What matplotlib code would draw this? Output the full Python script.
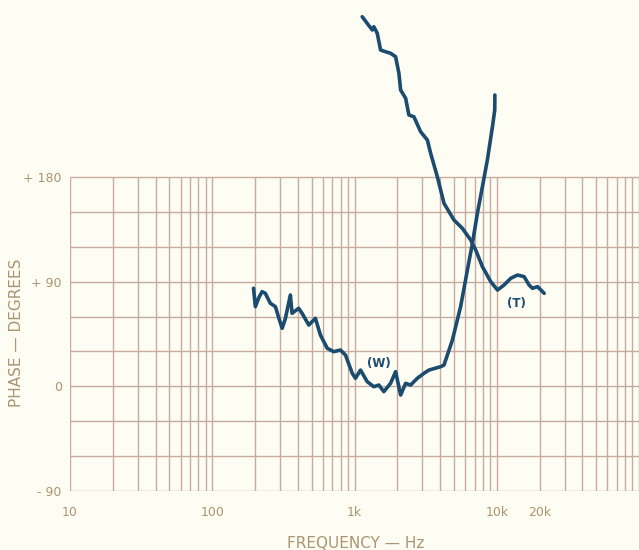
import numpy as np
import matplotlib
matplotlib.use('Agg')
import matplotlib.pyplot as plt

# ---- data ----
w_freq = [195, 201, 212, 224, 236, 256, 278, 295, 310, 327, 354, 364, 405, 428,
          477, 531, 576, 643, 715, 796, 864, 964, 1016, 1102, 1228, 1367, 1484,
          1608, 1793, 1945, 2110, 2288, 2479, 2763, 3079, 3338, 4035, 4256, 4877,
          5572, 6218, 6745, 7311, 7929, 8590, 9330, 9680, 9700]
w_phase = [84.3, 68.5, 76, 81.4, 80, 71.4, 68.5, 58, 49.9, 58.5, 78.5, 62.8,
           67.1, 62.8, 52.7, 58.5, 44.1, 32.7, 29.8, 31.2, 26.9, 11.2, 6.9, 14,
           4, -0.3, 1.1, -4.6, 2.6, 12.6, -7.5, 2.6, 1.1, 6.9, 11.2, 14, 16.9,
           18.3, 39.8, 68.5, 100, 123, 148.8, 171.7, 194.6, 223.3, 237.6, 250.5]

t_freq = [1133, 1228, 1333, 1368, 1445, 1525, 1653, 1793, 1945, 2052, 2110, 2288,
          2412, 2616, 2917, 3252, 3429, 3821, 4256, 5002, 5730, 6560, 7113, 7929,
          9077, 10120, 11250, 12550, 13990, 15570, 16880, 17820, 19350, 21550]
t_phase = [317.8, 312.1, 306.4, 309.2, 303.6, 289.2, 287.7, 286.4, 283.4, 269.2,
           254.8, 247.7, 233.3, 231.8, 218.9, 211.8, 200.4, 180.3, 157.4, 143,
           135.9, 125.8, 117.2, 102.9, 90, 82.8, 87.1, 92.9, 95.7, 94.3, 87.1,
           84.3, 85.7, 80]

y_ticks = [-90, 0, 90, 180]
y_labels = ['- 90', '0', '+ 90', '+ 180']
x_ticks = [10, 100, 1000, 10000, 20000]
x_labels = ['10', '100', '1k', '10k', '20k']

# ---- style ----
bg = '#fdfdf4'
grid_c = '#c8ab9f'
text_c = '#ab9470'
line_c = '#1b4b6e'

fig = plt.figure(figsize=(6.39, 5.5), dpi=100, facecolor=bg)
# From the bottom left corner x, y, width, height
ax = fig.add_axes([70/639, 1-491/550, 569/639, 491/550], facecolor=bg)
ax.set_xscale('log')
ax.set_xlim(10, 1e5)
ax.set_ylim(-90, -90 + 491/1.163)
for spine in ax.spines.values():
    spine.set_visible(False)

# hand drawn grid, only inside the -90..+180 band
vpos = [m * 10**d for d in range(1, 5) for m in range(1, 10)] + [1e5]
ax.vlines(vpos, -90, 180, colors=grid_c, linewidth=1.0, zorder=1)
ax.hlines(np.arange(-90, 181, 30), 10, 1e5, colors=grid_c, linewidth=1.0, zorder=1)

for f, p in [(w_freq, w_phase), (t_freq, t_phase)]:
    ax.plot(f, p, color=line_c, linewidth=2.6, solid_joinstyle='round',
            solid_capstyle='round', zorder=3)

ax.text(1476, 20, '(W)', color=line_c, fontsize=8.5, fontweight='bold',
        ha='center', va='center', zorder=4)
ax.text(13830, 71, '(T)', color=line_c, fontsize=8.5, fontweight='bold',
        ha='center', va='center', zorder=4)

ax.set_yticks(y_ticks)
ax.set_yticklabels(y_labels)
ax.set_xticks(x_ticks)
ax.set_xticklabels(x_labels)
ax.minorticks_off()
ax.tick_params(length=0, colors=text_c, labelsize=9)
ax.tick_params(axis='x', pad=11)
ax.tick_params(axis='y', pad=6)

fig.text(356/639, 1-543/550, 'FREQUENCY \u2014 Hz', color=text_c, fontsize=11,
         ha='center', va='center')
fig.text(17/639, 1-333/550, 'PHASE \u2014 DEGREES', color=text_c, fontsize=11,
         ha='center', va='center', rotation=90)

plt.savefig('out.png', dpi=100, facecolor=bg)
plt.close(fig)
